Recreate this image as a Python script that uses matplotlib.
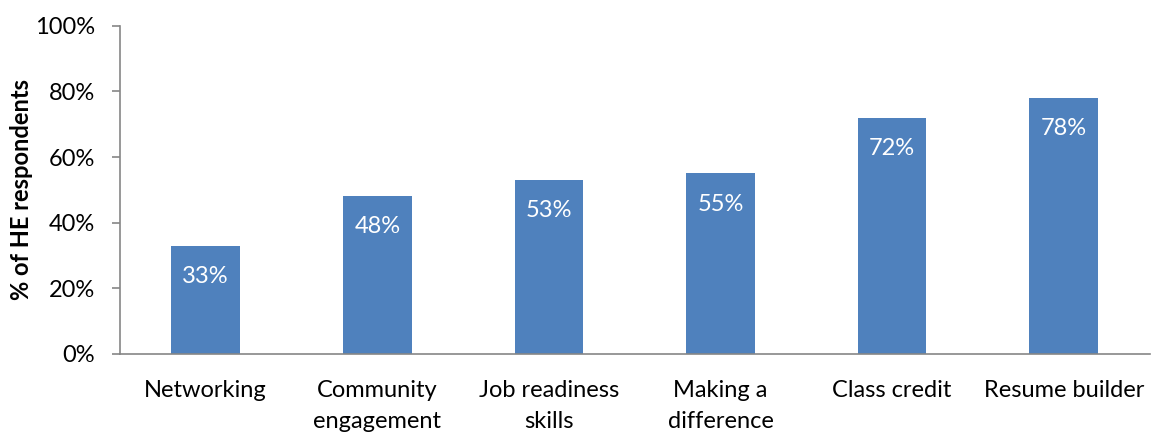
import matplotlib.pyplot as plt
from matplotlib.ticker import PercentFormatter

categories = ["Networking", "Community\nengagement", "Job readiness\nskills",
              "Making a\ndifference", "Class credit", "Resume builder"]
values = [33, 48, 53, 55, 72, 78]

plt.rcParams['font.family'] = ['Lato', 'DejaVu Sans']

fig = plt.figure(figsize=(11.53, 4.32), dpi=100)
ax = fig.add_axes([0.104, 0.181, 0.893, 0.759])

x = range(len(categories))
bars = ax.bar(x, values, width=0.4, color="#4F81BD", zorder=2)

for b, v in zip(bars, values):
    ax.annotate(f"{v}%", (b.get_x() + b.get_width() / 2, v),
                xytext=(0, -22), textcoords="offset points",
                ha="center", va="center", color="white", fontsize=17)

ax.set_xlim(-0.5, len(categories) - 0.5)
ax.set_ylim(0, 100)
ax.set_yticks(range(0, 101, 20))
ax.yaxis.set_major_formatter(PercentFormatter(decimals=0))
ax.set_xticks(list(x))
ax.set_xticklabels(categories, fontsize=17, va="top", linespacing=1.6)
ax.tick_params(axis="x", length=0, pad=19)
ax.tick_params(axis="y", length=6, width=1.2, color="#868686", labelsize=17, pad=12)

for s in ["top", "right"]:
    ax.spines[s].set_visible(False)
for s in ["left", "bottom"]:
    ax.spines[s].set_color("#868686")
    ax.spines[s].set_linewidth(1.2)

ax.set_ylabel("% of HE respondents", fontsize=17, fontweight="bold", labelpad=1)

fig.savefig("out.png", dpi=100)
